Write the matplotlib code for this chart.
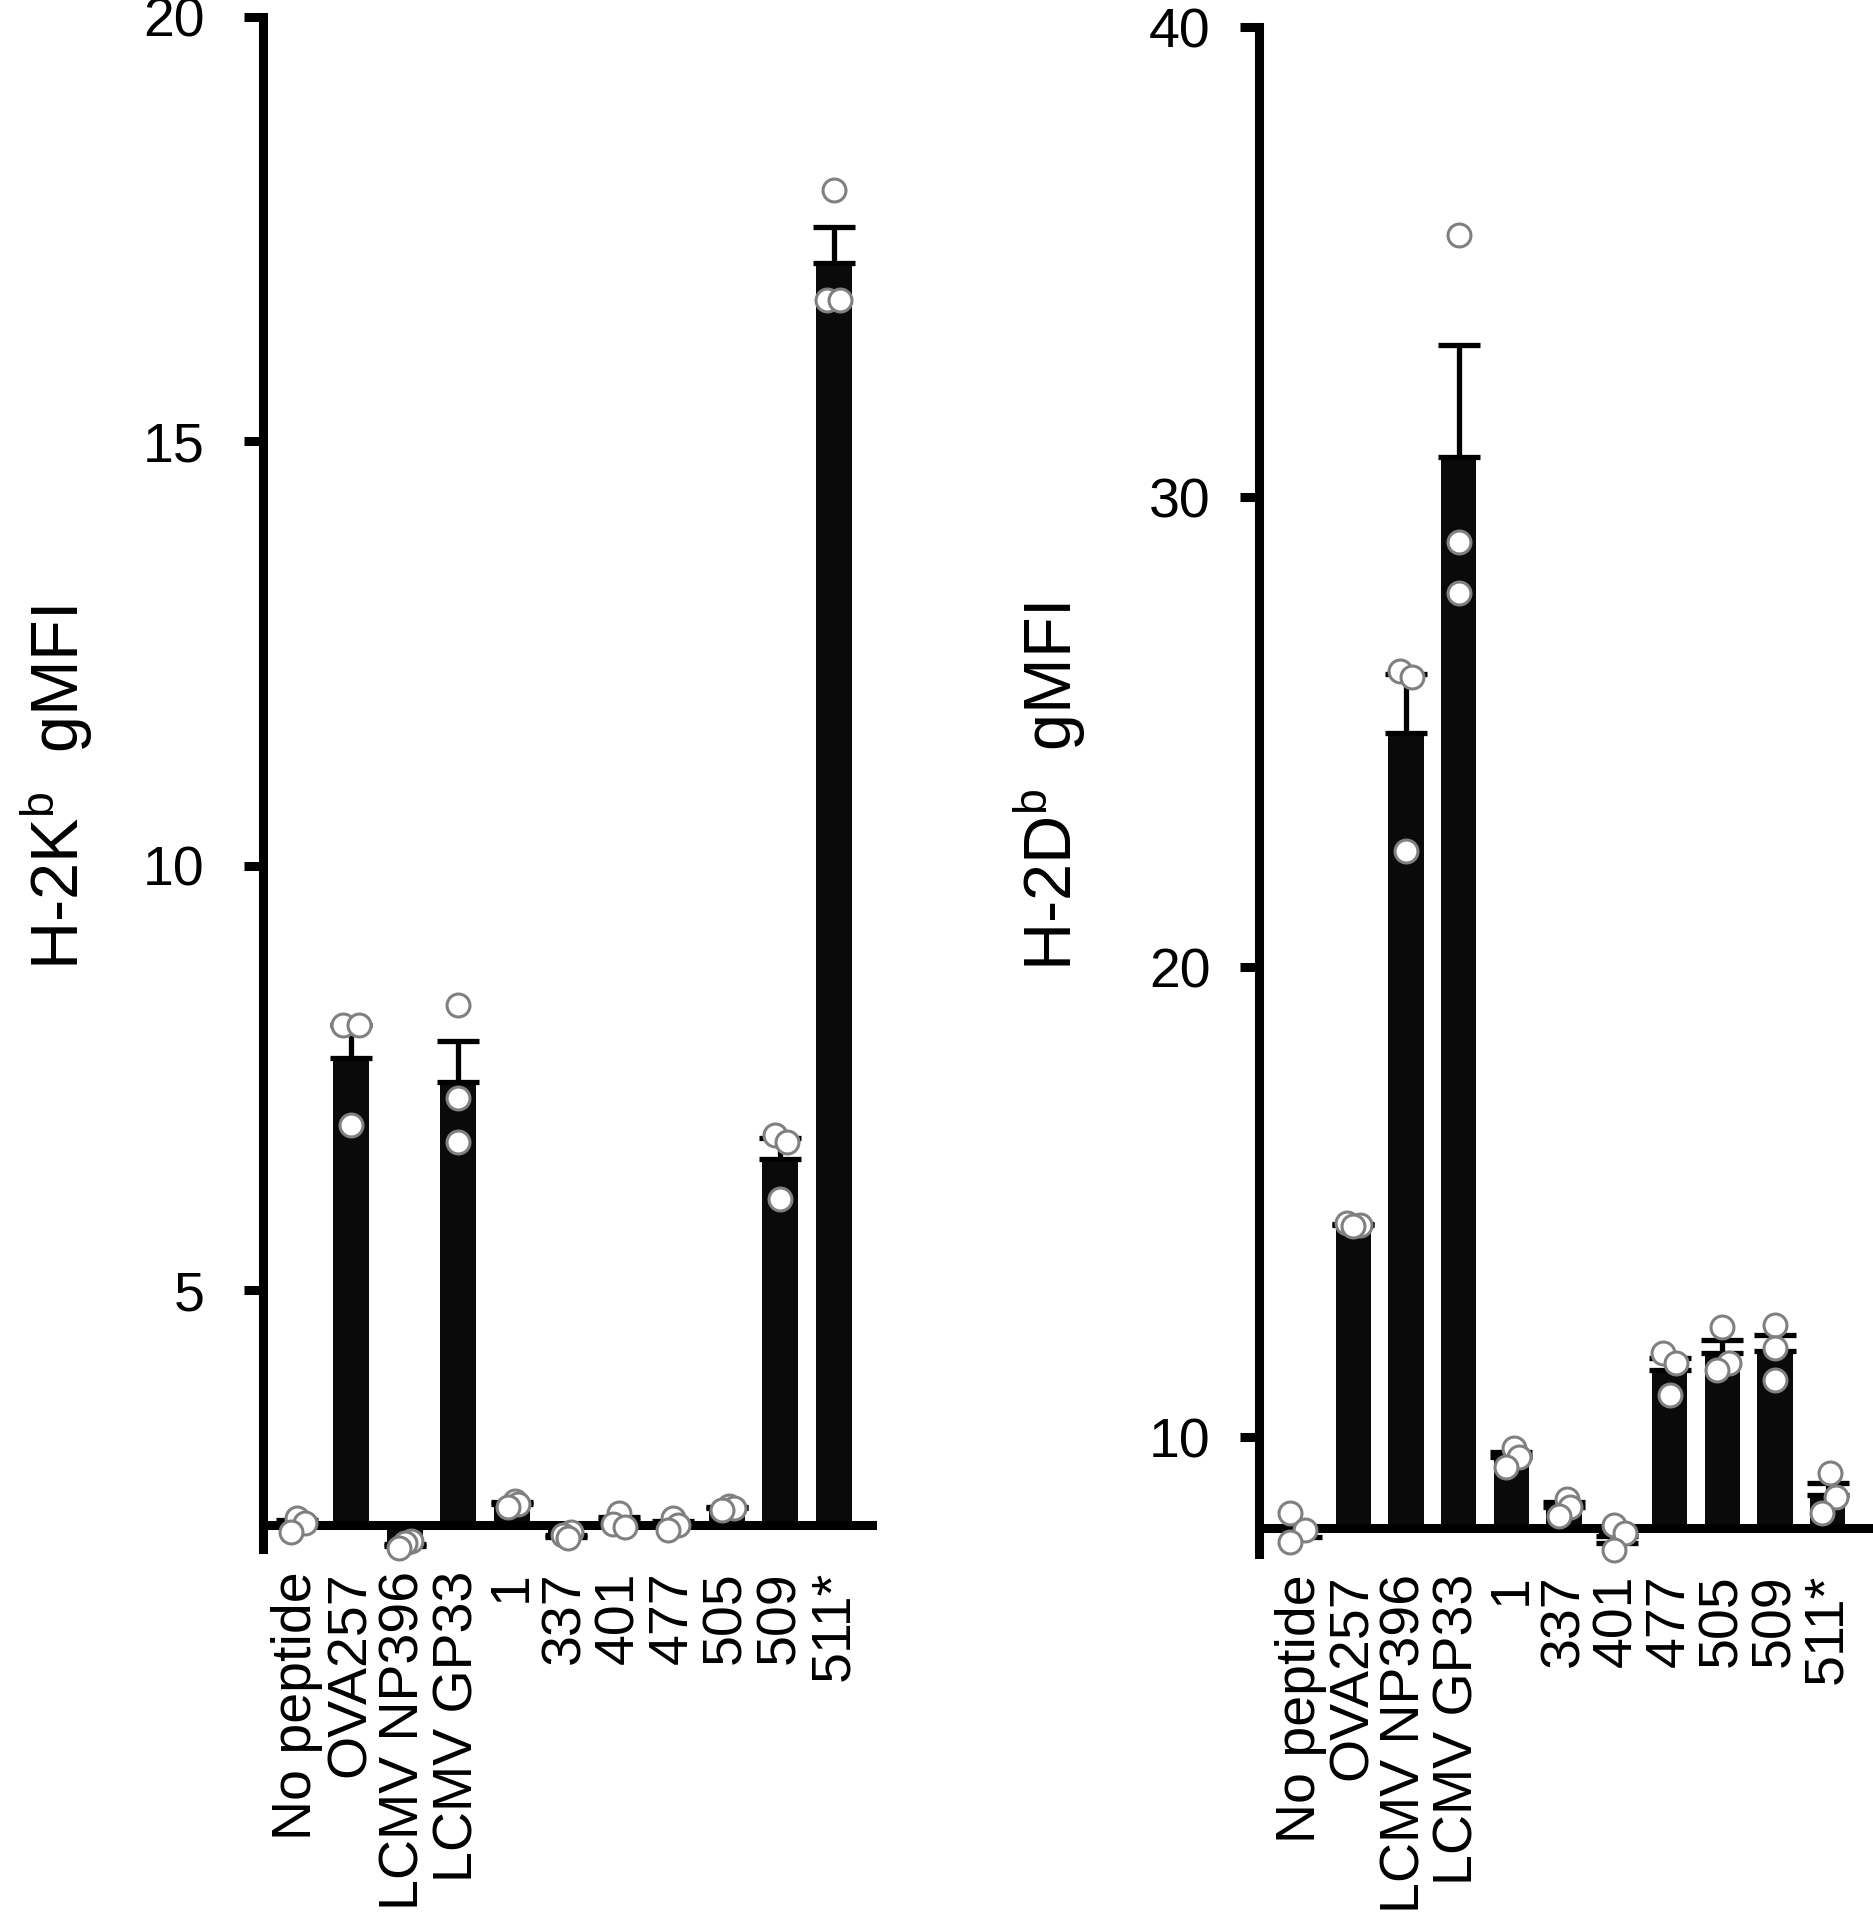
import numpy as np
import matplotlib
matplotlib.use("Agg")
import matplotlib.pyplot as plt

# DATA
CATEGORIES = ["No peptide", "OVA257", "LCMV NP396", "LCMV GP33", "1", "337",
              "401", "477", "505", "509", "511*"]

# H-2Kb gMFI, three replicates per peptide
KB_POINTS = [
    [2.32, 2.26, 2.15],
    [8.12, 8.12, 6.95],
    [2.05, 2.02, 1.96],
    [8.36, 7.26, 6.75],
    [2.52, 2.48, 2.44],
    [2.15, 2.12, 2.08],
    [2.37, 2.25, 2.21],
    [2.31, 2.23, 2.17],
    [2.46, 2.43, 2.41],
    [6.83, 6.75, 6.07],
    [17.96, 16.67, 16.67],
]

# H-2Db gMFI, three replicates per peptide
DB_POINTS = [
    [8.38, 8.02, 7.77],
    [14.55, 14.52, 14.48],
    [26.29, 26.18, 22.46],
    [35.57, 29.04, 27.96],
    [9.77, 9.58, 9.36],
    [8.68, 8.52, 8.32],
    [8.13, 7.96, 7.60],
    [11.79, 11.57, 10.89],
    [12.34, 11.57, 11.43],
    [12.38, 11.89, 11.21],
    [9.23, 8.72, 8.38],
]

KB_TICKS = [5, 10, 15, 20]
DB_TICKS = [10, 20, 30, 40]

# STYLE
DPI = 100
FIG_W, FIG_H = 1874, 1920
FONT = "Liberation Sans"
BAR_WIDTH = 0.67
LINE_W = 6.5
TICK_FS = 40
LABEL_FS = 48

# horizontal scatter of the replicate dots (style only)
KB_JITTER = [[0.0, 0.15, -0.12], [-0.15, 0.15, 0], [0.12, 0.0, -0.1], [0, 0, 0],
             [0.05, 0.12, -0.08], [0.1, -0.05, 0.05], [0, -0.12, 0.1], [0.0, 0.1, -0.1],
             [0.05, 0.13, -0.08], [-0.1, 0.12, 0], [0, -0.12, 0.12]]
DB_JITTER = [[-0.2, 0.08, -0.2], [-0.12, 0.12, 0], [-0.12, 0.12, 0], [0, 0, 0],
             [0.05, 0.15, -0.1], [0.05, 0.12, -0.1], [-0.05, 0.15, -0.05], [-0.12, 0.12, 0],
             [0, 0.12, -0.1], [0, 0, 0], [0.05, 0.15, -0.1]]

plt.rcParams["font.family"] = [FONT, "DejaVu Sans"]
plt.rcParams["mathtext.fontset"] = "custom"
plt.rcParams["mathtext.rm"] = FONT
plt.rcParams["mathtext.it"] = FONT + ":italic"


def draw_panel(ax, points, jitter, base, ylim, xlim, yticks, ytick_pad):
    pts = np.array(points)
    means = pts.mean(axis=1)
    sems = pts.std(axis=1, ddof=1) / np.sqrt(pts.shape[1])
    x = np.arange(len(means))

    ax.bar(x, means - base, bottom=base, width=BAR_WIDTH, color="#0a0a0a", zorder=2)

    # error bar only on the side away from the baseline
    up = means >= base
    ax.errorbar(x[up], means[up], yerr=[np.zeros(up.sum()), sems[up]], fmt="none",
                ecolor="black", elinewidth=3.8, capsize=15, capthick=3.8, zorder=3)
    dn = ~up
    if dn.any():
        ax.errorbar(x[dn], means[dn], yerr=[sems[dn], np.zeros(dn.sum())], fmt="none",
                    ecolor="black", elinewidth=3.8, capsize=15, capthick=3.8, zorder=3)

    for i in range(len(means)):
        ax.plot(x[i] + np.array(jitter[i]), pts[i], "o", ms=16.5, mfc="white",
                mec="#808080", mew=2.2, zorder=4, clip_on=False)

    ax.set_xlim(xlim)
    ax.set_ylim(ylim)
    ax.spines["top"].set_visible(False)
    ax.spines["right"].set_visible(False)
    ax.spines["left"].set_linewidth(LINE_W)
    ax.spines["bottom"].set_linewidth(LINE_W)
    ax.spines["bottom"].set_position(("data", base))
    ax.spines["bottom"].set_zorder(2.5)

    ax.set_yticks(yticks)
    ax.set_yticklabels([str(t) for t in yticks], fontsize=TICK_FS)
    ax.tick_params(axis="y", length=14, width=LINE_W, pad=ytick_pad)

    ax.set_xticks(x)
    ax.set_xticklabels(CATEGORIES, rotation=90, fontsize=TICK_FS, va="top", ha="center")
    ax.tick_params(axis="x", length=0, pad=33)


fig = plt.figure(figsize=(FIG_W / DPI, FIG_H / DPI), dpi=DPI, facecolor="white")

ax1 = fig.add_axes([0.1403, 0.1932, 0.325, 0.798])
draw_panel(ax1, KB_POINTS, KB_JITTER, 2.23, (1.95, 20), (-0.64, 10.71), KB_TICKS, 28)

ax2 = fig.add_axes([0.6718, 0.1906, 0.3282, 0.7953])
draw_panel(ax2, DB_POINTS, DB_JITTER, 8.06, (7.51, 40), (-0.79, 10.88), DB_TICKS, 21)

fig.text(0.030, 0.59, r"H-2K$^{\mathrm{b}}$  gMFI", rotation=90, ha="center", va="center",
         fontsize=LABEL_FS)
fig.text(0.560, 0.59, r"H-2D$^{\mathrm{b}}$  gMFI", rotation=90, ha="center", va="center",
         fontsize=LABEL_FS)

fig.savefig("out.png", dpi=DPI)
plt.close(fig)
